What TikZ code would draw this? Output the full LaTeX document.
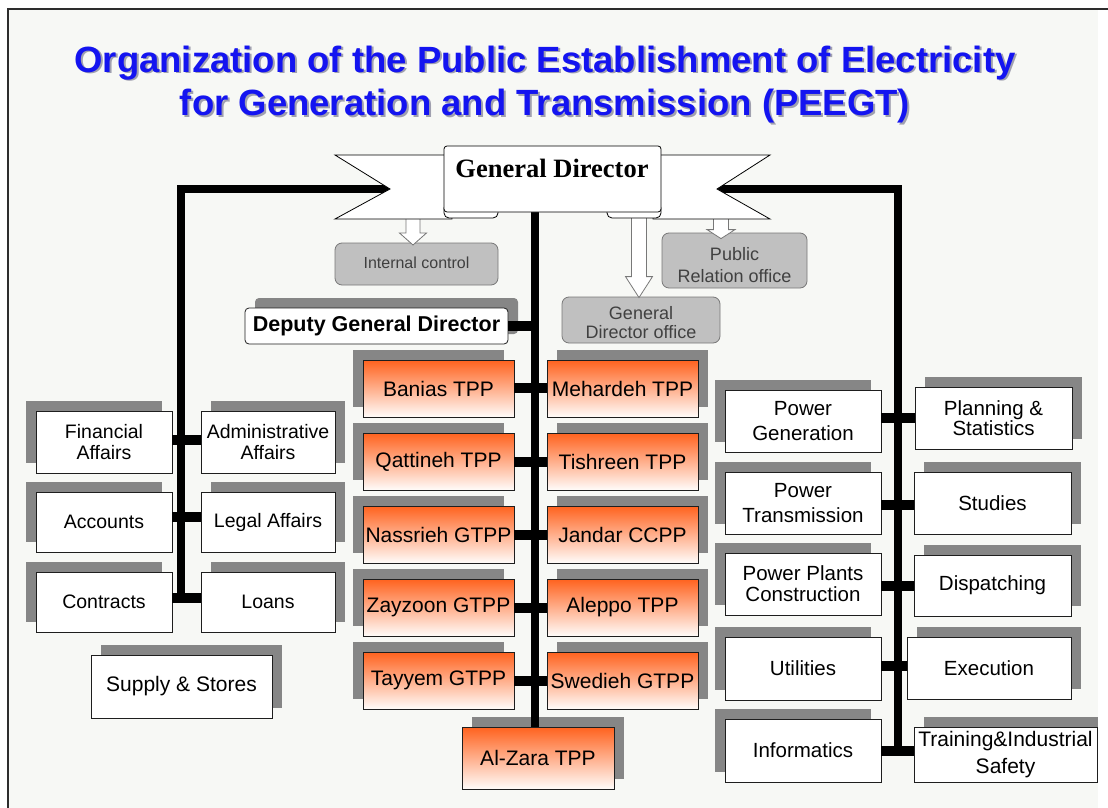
\documentclass[tikz,border=0pt]{standalone}
\usepackage{fontspec}
\setmainfont{Liberation Sans}
\newfontfamily\gdfont{Liberation Serif}
\usetikzlibrary{calc}

\definecolor{pagebg}{RGB}{247,248,245}
\definecolor{frameline}{RGB}{45,45,45}
\definecolor{titleblue}{RGB}{20,20,240}
\definecolor{titleshade}{RGB}{160,160,175}
\definecolor{shadowgray}{RGB}{134,134,134}
\definecolor{boxline}{RGB}{30,30,30}
\definecolor{staffgray}{RGB}{192,192,192}
\definecolor{staffline}{RGB}{120,120,120}
\definecolor{stafftext}{RGB}{64,64,64}
\definecolor{plantorange}{RGB}{255,98,30}
\definecolor{plantmid}{RGB}{255,180,150}
\definecolor{plantlight}{RGB}{255,252,250}

\tikzset{
  unitbox/.style={draw=boxline, line width=0.8pt, fill=white, inner sep=0pt, align=center, text=black},
  shadowNW/.style={preaction={fill=shadowgray, draw=none, transform canvas={xshift=-10pt,yshift=10pt}}},
  shadowNE/.style={preaction={fill=shadowgray, draw=none, transform canvas={xshift=10pt,yshift=10pt}}},
  adminbox/.style={unitbox, minimum width=136pt, minimum height=62pt, font=\fontsize{19.5}{21}\selectfont},
  plantbox/.style={unitbox, top color=plantorange, middle color=plantmid, bottom color=plantlight, minimum width=151pt, minimum height=57pt, font=\fontsize{21}{24}\selectfont},
  techbox/.style={unitbox, minimum width=156pt, minimum height=62pt, font=\fontsize{20.5}{25}\selectfont},
  staffbox/.style={draw=staffline, line width=0.8pt, fill=staffgray, rounded corners=7pt, inner sep=0pt},
  stafflabel/.style={text=stafftext, inner sep=0pt, align=center, font=\fontsize{18}{19}\selectfont},
  blockarrow/.style={draw=staffline, line width=0.8pt, fill=white, line join=miter},
  ribbon/.style={draw=black, line width=0.8pt, fill=white},
  bus/.style={draw=black, line width=8.5pt},
  tap/.style={draw=black, line width=10pt},
  titletext/.style={font=\bfseries\fontsize{36.5}{43}\selectfont, anchor=base, inner sep=0pt}
}

\begin{document}
\begin{tikzpicture}[x=1pt, y=-1pt]
\useasboundingbox (0,0) rectangle (1108,808);

% page
\fill[white] (0,0) rectangle (1108,808);
\fill[pagebg] (9,10) rectangle (1098,808);

% heading with its drop shadow
\node[titletext, text=titleshade] (t1s) at (547,74) {Organization of the Public Establishment of Electricity};
\node[titletext, text=titleshade] (t2s) at (547,117) {for Generation and Transmission (PEEGT)};
\node[titletext, text=titleblue] (t1) at (545,72) {Organization of the Public Establishment of Electricity};
\node[titletext, text=titleblue] (t2) at (545,115) {for Generation and Transmission (PEEGT)};

% branch points of the three trunks
\coordinate (lnotch) at (390,189);
\coordinate (rnotch) at (717,189);
\coordinate (cspine) at (535,205);
\coordinate (lend) at (181,598);
\coordinate (rend) at (898,751);

% ---------------- nodes ----------------
% staff offices
\node[staffbox, minimum width=163pt, minimum height=42pt] (ictl) at (416.5,264) {};
\node[stafflabel, font=\fontsize{16}{18}\selectfont] (ictltext) at (416.5,263) {Internal control};
\node[staffbox, minimum width=158pt, minimum height=46pt] (gdo) at (641,320) {};
\node[stafflabel] (gdotext) at (641,323) {General\\Director office};
\node[staffbox, minimum width=145pt, minimum height=55pt] (pro) at (734.5,260.5) {};
\node[stafflabel, font=\fontsize{18}{22}\selectfont] (protext) at (734.5,265) {Public\\Relation office};

% deputy
\node[unitbox, shadowNE, rounded corners=4pt, minimum width=263pt, minimum height=36pt,
      font=\bfseries\fontsize{21.5}{24}\selectfont] (deputy) at (376.5,326) {Deputy General Director};

% power plants
\node[plantbox, shadowNW] (banias)   at (438.5,388.5) {Banias TPP};
\node[plantbox, shadowNE] (mehardeh) at (622.5,388.5) {Mehardeh TPP};
\node[plantbox, shadowNW] (qattineh) at (438.5,461.5) {Qattineh TPP};
\node[plantbox, shadowNE] (tishreen) at (622.5,461.5) {Tishreen TPP};
\node[plantbox, shadowNW] (nassrieh) at (438.5,534.5) {Nassrieh GTPP};
\node[plantbox, shadowNE] (jandar)   at (622.5,534.5) {Jandar CCPP};
\node[plantbox, shadowNW] (zayzoon)  at (438.5,607.5) {Zayzoon GTPP};
\node[plantbox, shadowNE] (aleppo)   at (622.5,607.5) {Aleppo TPP};
\node[plantbox, shadowNW] (tayyem)   at (438.5,680.5) {Tayyem GTPP};
\node[plantbox, shadowNE] (swedieh)  at (622.5,680.5) {Swedieh GTPP};
\node[plantbox, shadowNE, minimum width=152pt, minimum height=62pt] (alzara) at (538,758) {Al-Zara TPP};

% administration side
\node[adminbox, shadowNW] (fin)   at (104,442) {Financial\\Affairs};
\node[adminbox, shadowNE, minimum width=134pt] (adm) at (268,442) {Administrative\\Affairs};
\node[adminbox, shadowNW, minimum height=60pt] (acc)   at (104,522) {Accounts};
\node[adminbox, shadowNE, minimum width=134pt, minimum height=60pt] (legal) at (268,522) {Legal Affairs};
\node[adminbox, shadowNW, minimum height=60pt] (contr) at (104,602) {Contracts};
\node[adminbox, shadowNE, minimum width=134pt, minimum height=60pt] (loans) at (268,602) {Loans};
\node[adminbox, shadowNE, minimum width=181pt, minimum height=63pt, font=\fontsize{21}{24}\selectfont] (supply) at (181.5,686.5) {Supply \& Stores};

% technical side
\node[techbox, shadowNW] (pgen)  at (803,421) {Power\\Generation};
\node[techbox, shadowNE, minimum width=157pt, font=\fontsize{20.5}{20.5}\selectfont] (plan) at (993.5,418) {Planning \&\\Statistics};
\node[techbox, shadowNW] (ptrans) at (803,503) {Power\\Transmission};
\node[techbox, shadowNE, minimum width=157pt] (studies) at (992.5,503) {Studies};
\node[techbox, shadowNW, font=\fontsize{20.5}{21}\selectfont] (ppc) at (803,584) {Power Plants\\Construction};
\node[techbox, shadowNE, minimum width=157pt, minimum height=61pt] (disp) at (992.5,585.5) {Dispatching};
\node[techbox, shadowNW, minimum height=63pt] (util) at (803,668.5) {Utilities};
\node[techbox, shadowNE, minimum width=164pt] (exec) at (989,668) {Execution};
\node[techbox, shadowNW, minimum height=63pt] (infor) at (803,750.5) {Informatics};
\node[techbox, shadowNE, minimum width=183pt, minimum height=55pt, font=\fontsize{21}{27}\selectfont] (train) at (1005.5,754.5) {Training\&Industrial\\Safety};

% ---------------- trunks and taps ----------------
\draw[bus] (lnotch) -| (lend);
\draw[bus] (rnotch) -| (rend);
\draw[bus] (cspine) -- (cspine |- alzara.north);

\draw[tap] (deputy.east) -- (deputy.east -| cspine);
\draw[tap] ($(banias.east)+(0,-1)$) -- ($(mehardeh.west)+(0,-1)$);
\draw[tap] (qattineh.east) -- (tishreen.west);
\draw[tap] (nassrieh.east) -- (jandar.west);
\draw[tap] (zayzoon.east) -- (aleppo.west);
\draw[tap] (tayyem.east) -- (swedieh.west);

\draw[tap] ($(fin.east)+(0,-2)$) -- ($(adm.west)+(0,-2)$);
\draw[tap] ($(acc.east)+(0,-5)$) -- ($(legal.west)+(0,-5)$);
\draw[tap] ($(contr.east)+(0,-4)$) -- ($(loans.west)+(0,-4)$);

\draw[tap] ($(pgen.east)+(0,-3)$) -- ($(pgen.east -| plan.west)+(0,-3)$);
\draw[tap] ($(ptrans.east)+(0,2)$) -- ($(studies.west)+(0,2)$);
\draw[tap] ($(ppc.east)+(0,1.5)$) -- ($(disp.west)$);
\draw[tap] ($(util.east)+(0,-3)$) -- ($(util.east -| exec.west)+(0,-3)$);
\draw[tap] (infor.east) -- (infor.east -| train.west);

% ---------------- hollow arrows to the staff offices ----------------
\draw[blockarrow, shift={(413,245)}]
  (0,0) -- (-13.5,-12) -- (-7,-12) -- (-7,-31) -- (7,-31) -- (7,-12) -- (13.5,-12) -- cycle;
\draw[blockarrow, shift={($(gdo.north)+(-2,1)$)}]
  (0,0) -- (-13.5,-21) -- (-7.5,-21) -- (-7.5,-86) -- (7.5,-86) -- (7.5,-21) -- (13.5,-21) -- cycle;
\draw[blockarrow, shift={($(pro.north)+(-13.5,6)$)}]
  (0,0) -- (-14,-9) -- (-7.5,-9) -- (-7.5,-24) -- (7.5,-24) -- (7.5,-9) -- (14,-9) -- cycle;

% ---------------- General Director ribbon ----------------
\draw[ribbon, line join=miter] (335,155) -- (452,155) -- (452,219) -- (335,219) -- (lnotch) -- cycle;
\draw[ribbon, line join=miter] (770,155) -- (653,155) -- (653,219) -- (770,219) -- (rnotch) -- cycle;
\draw[ribbon, rounded corners=5pt] (444,203) rectangle (498,218);
\draw[ribbon, rounded corners=5pt] (607,203) rectangle (661,218);
\node[ribbon, rounded corners=3pt, minimum width=217pt, minimum height=66pt, inner sep=0pt] (gd) at (552.5,179) {};
\node[font=\gdfont\bfseries\fontsize{26.5}{28}\selectfont, anchor=base, inner sep=0pt] (gdlabel) at (552,177) {General Director};

% slide edge: trim at the right margin, then the frame lines
\fill[white] (1098,10) rectangle (1108,808);
\draw[frameline, line width=2pt] (8,808) -- (8,9) -- (1108,9);

\end{tikzpicture}
\end{document}
